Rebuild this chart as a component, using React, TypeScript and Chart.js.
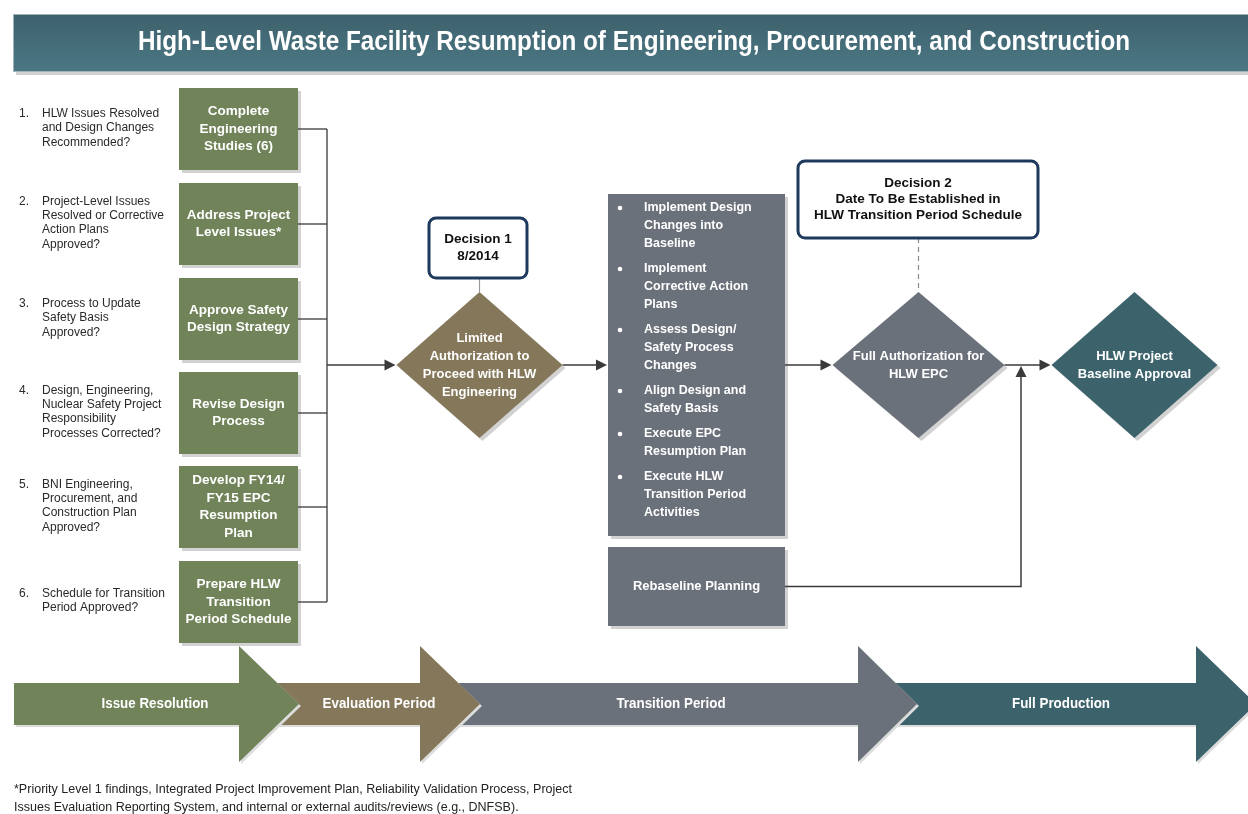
import React, { useEffect, useRef } from "react";
import { Chart, registerables } from "chart.js";

Chart.register(...registerables);

// ---------------- data ----------------
const titleText =
  "High-Level Waste Facility Resumption of Engineering, Procurement, and Construction";

const stepQuestions: string[][] = [
  ["HLW Issues Resolved", "and Design Changes", "Recommended?"],
  ["Project-Level Issues", "Resolved or Corrective", "Action Plans", "Approved?"],
  ["Process to Update", "Safety Basis", "Approved?"],
  ["Design, Engineering,", "Nuclear Safety Project", "Responsibility", "Processes Corrected?"],
  ["BNI Engineering,", "Procurement, and", "Construction Plan", "Approved?"],
  ["Schedule for Transition", "Period Approved?"],
];

const stepActions: string[][] = [
  ["Complete", "Engineering", "Studies (6)"],
  ["Address Project", "Level Issues*"],
  ["Approve Safety", "Design Strategy"],
  ["Revise Design", "Process"],
  ["Develop FY14/", "FY15 EPC", "Resumption", "Plan"],
  ["Prepare HLW", "Transition", "Period Schedule"],
];

const decision1Note = ["Decision 1", "8/2014"];
const decision1Label = ["Limited", "Authorization to", "Proceed with HLW", "Engineering"];

const transitionTasks: string[][] = [
  ["Implement Design", "Changes into", "Baseline"],
  ["Implement", "Corrective Action", "Plans"],
  ["Assess Design/", "Safety Process", "Changes"],
  ["Align Design and", "Safety Basis"],
  ["Execute EPC", "Resumption Plan"],
  ["Execute HLW", "Transition Period", "Activities"],
];
const rebaselineLabel = ["Rebaseline Planning"];

const decision2Note = ["Decision 2", "Date To Be Established in", "HLW Transition Period Schedule"];
const decision2Label = ["Full Authorization for", "HLW EPC"];
const finalLabel = ["HLW Project", "Baseline Approval"];

const phaseLabels = ["Issue Resolution", "Evaluation Period", "Transition Period", "Full Production"];

const footnoteLines = [
  "*Priority Level 1 findings, Integrated Project Improvement Plan, Reliability Validation Process, Project",
  "Issues Evaluation Reporting System, and internal or external audits/reviews (e.g., DNFSB).",
];

// ---------------- layout & style ----------------
const W = 1248;
const H = 814;
const COLORS = {
  green: "#718359",
  brown: "#85775a",
  grey: "#6b717b",
  teal: "#3c636c",
  navy: "#1d3a5c",
  line: "#3a3a3a",
  shadow: "#d2d2d2",
  text: "#2a2a2a",
};
const L = {
  title: { x0: 13, x1: 1248, y0: 14, y1: 72, cy: 43, cx: 634, w: 992 },
  stepBox: { x0: 179, x1: 298, tops: [88, 183, 278, 372, 466, 561], h: 82 },
  qNumX: 19,
  qTextX: 42,
  qLine: 14.3,
  boxLine: 17.5,
  bus: 327,
  flowY: 365,
  d1: { cx: 479.5, hw: 83, hh: 73 },
  d1Note: { x0: 429, x1: 527, y0: 218, y1: 278 },
  tasks: { x0: 608, x1: 785, y0: 194, y1: 536, y: 208, lh: 18, gap: 7, bulletX: 620, textX: 644 },
  rebase: { x0: 608, x1: 785, y0: 547, y1: 626 },
  d2: { cx: 918.5, hw: 86, hh: 73 },
  d2Note: { x0: 798, x1: 1038, y0: 161, y1: 238 },
  d3: { cx: 1134.5, hw: 83, hh: 73 },
  mergeX: 1021,
  phase: {
    bodyY0: 683,
    bodyY1: 725,
    headY0: 646,
    headY1: 762,
    midY: 704,
    refLabelW: 107,
    arrows: [
      { x0: 14, back: 239, tip: 299, cx: 155 },
      { x0: 270, back: 420, tip: 480, cx: 379 },
      { x0: 450, back: 858, tip: 917, cx: 671 },
      { x0: 890, back: 1196, tip: 1256, cx: 1061 },
    ],
  },
  foot: { x: 14, ys: [790, 808], w: 558 },
};
const phaseColors = [COLORS.green, COLORS.brown, COLORS.grey, COLORS.teal];

const SANS = '"Liberation Sans", Arial, "DejaVu Sans", sans-serif';

// ---------------- drawing plugin ----------------
const flowPlugin = {
  id: "flowchart",
  beforeDraw(chart: any) {
    const c = chart.ctx as CanvasRenderingContext2D;
    c.save();
    c.fillStyle = "#ffffff";
    c.fillRect(0, 0, chart.width, chart.height);
    c.restore();
  },
  afterDraw(chart: any) {
    const c = chart.ctx as CanvasRenderingContext2D;
    const xs = chart.scales.x;
    const ys = chart.scales.y;
    const X = (v: number) => xs.getPixelForValue(v);
    const Y = (v: number) => ys.getPixelForValue(v);

    const rect = (x0: number, y0: number, x1: number, y1: number, fill: string, shadow = true) => {
      if (shadow) {
        c.fillStyle = COLORS.shadow;
        c.fillRect(X(x0) + 3, Y(y0) + 3, X(x1) - X(x0), Y(y1) - Y(y0));
      }
      c.fillStyle = fill;
      c.fillRect(X(x0), Y(y0), X(x1) - X(x0), Y(y1) - Y(y0));
    };
    const diamondPath = (cx: number, cy: number, hw: number, hh: number, off = 0) => {
      c.beginPath();
      c.moveTo(X(cx) + off, Y(cy - hh) + off);
      c.lineTo(X(cx + hw) + off, Y(cy) + off);
      c.lineTo(X(cx) + off, Y(cy + hh) + off);
      c.lineTo(X(cx - hw) + off, Y(cy) + off);
      c.closePath();
    };
    const diamond = (cx: number, cy: number, hw: number, hh: number, fill: string) => {
      diamondPath(cx, cy, hw, hh, 3);
      c.fillStyle = COLORS.shadow;
      c.fill();
      diamondPath(cx, cy, hw, hh);
      c.fillStyle = fill;
      c.fill();
    };
    const textBlock = (
      lines: string[],
      cx: number,
      cy: number,
      lh: number,
      font: string,
      color: string,
      align: CanvasTextAlign = "center"
    ) => {
      c.font = font;
      c.fillStyle = color;
      c.textAlign = align;
      c.textBaseline = "middle";
      const start = cy - ((lines.length - 1) * lh) / 2;
      lines.forEach((t, i) => c.fillText(t, X(cx), Y(start + i * lh)));
    };
    // text drawn with a horizontal squeeze (imitates a condensed face)
    const squeezed = (
      text: string,
      x: number,
      y: number,
      font: string,
      sx: number,
      color: string,
      align: CanvasTextAlign
    ) => {
      c.save();
      c.font = font;
      c.fillStyle = color;
      c.textAlign = align;
      c.textBaseline = "middle";
      c.translate(X(x), Y(y));
      c.scale(sx, 1);
      c.fillText(text, 0, 0);
      c.restore();
    };
    const squeezeFor = (text: string, font: string, target: number) => {
      c.font = font;
      return target / c.measureText(text).width;
    };
    const line = (pts: number[][], color = COLORS.line, width = 1.5, dash: number[] = []) => {
      c.beginPath();
      c.setLineDash(dash);
      c.strokeStyle = color;
      c.lineWidth = width;
      pts.forEach((p, i) => (i ? c.lineTo(X(p[0]), Y(p[1])) : c.moveTo(X(p[0]), Y(p[1]))));
      c.stroke();
      c.setLineDash([]);
    };
    const arrowHead = (tx: number, ty: number, dir: "right" | "up") => {
      const x = X(tx);
      const y = Y(ty);
      c.beginPath();
      if (dir === "right") {
        c.moveTo(x, y);
        c.lineTo(x - 11, y - 5.5);
        c.lineTo(x - 11, y + 5.5);
      } else {
        c.moveTo(x, y);
        c.lineTo(x - 5.5, y + 11);
        c.lineTo(x + 5.5, y + 11);
      }
      c.closePath();
      c.fillStyle = COLORS.line;
      c.fill();
    };
    const roundRect = (x0: number, y0: number, x1: number, y1: number, r: number) => {
      const a = X(x0), b = Y(y0), w = X(x1) - X(x0), h = Y(y1) - Y(y0);
      c.beginPath();
      c.moveTo(a + r, b);
      c.arcTo(a + w, b, a + w, b + h, r);
      c.arcTo(a + w, b + h, a, b + h, r);
      c.arcTo(a, b + h, a, b, r);
      c.arcTo(a, b, a + w, b, r);
      c.closePath();
      c.fillStyle = "#ffffff";
      c.fill();
      c.strokeStyle = COLORS.navy;
      c.lineWidth = 3;
      c.stroke();
    };

    // ---- title banner ----
    const t = L.title;
    c.fillStyle = COLORS.shadow;
    c.fillRect(X(t.x0) + 3, Y(t.y0) + 3, X(t.x1) - X(t.x0), Y(t.y1) - Y(t.y0));
    const g = c.createLinearGradient(0, Y(t.y0), 0, Y(t.y1));
    g.addColorStop(0, "#3e616d");
    g.addColorStop(1, "#4a7884");
    c.fillStyle = g;
    c.fillRect(X(t.x0), Y(t.y0), X(t.x1) - X(t.x0), Y(t.y1) - Y(t.y0));
    c.strokeStyle = "#9fb3b8";
    c.lineWidth = 1;
    c.strokeRect(X(t.x0) + 0.5, Y(t.y0) + 0.5, X(t.x1) - X(t.x0), Y(t.y1) - Y(t.y0) - 1);
    const titleFont = `bold 27px ${SANS}`;
    squeezed(titleText, t.cx, t.cy, titleFont, squeezeFor(titleText, titleFont, t.w), "#ffffff", "center");

    // ---- left column: questions and green boxes ----
    const sb = L.stepBox;
    sb.tops.forEach((top, i) => {
      const cy = top + sb.h / 2;
      rect(sb.x0, top, sb.x1, top + sb.h, COLORS.green);
      textBlock(stepActions[i], (sb.x0 + sb.x1) / 2, cy, L.boxLine, `bold 13.5px ${SANS}`, "#ffffff");
      const q = stepQuestions[i];
      const qcy = cy - 1;
      const qStart = qcy - ((q.length - 1) * L.qLine) / 2;
      textBlock([`${i + 1}.`], L.qNumX, qStart, 0, `12px ${SANS}`, COLORS.text, "left");
      textBlock(q, L.qTextX, qcy, L.qLine, `12px ${SANS}`, COLORS.text, "left");
      line([[sb.x1, cy], [L.bus, cy]], COLORS.line, 1.3);
    });
    line(
      [[L.bus, sb.tops[0] + sb.h / 2], [L.bus, sb.tops[sb.tops.length - 1] + sb.h / 2]],
      COLORS.line,
      1.3
    );
    // bus -> decision 1
    line([[L.bus, L.flowY], [L.d1.cx - L.d1.hw - 8, L.flowY]]);
    arrowHead(L.d1.cx - L.d1.hw - 1, L.flowY, "right");

    // ---- decision 1 ----
    const n1 = L.d1Note;
    line([[L.d1.cx, n1.y1], [L.d1.cx, L.flowY - L.d1.hh]], "#9a9a9a", 1.2);
    roundRect(n1.x0, n1.y0, n1.x1, n1.y1, 7);
    textBlock(decision1Note, (n1.x0 + n1.x1) / 2, (n1.y0 + n1.y1) / 2, 17, `bold 13.5px ${SANS}`, "#111111");
    diamond(L.d1.cx, L.flowY, L.d1.hw, L.d1.hh, COLORS.brown);
    textBlock(decision1Label, L.d1.cx, L.flowY, 18, `bold 13px ${SANS}`, "#ffffff");
    line([[L.d1.cx + L.d1.hw, L.flowY], [L.tasks.x0 - 8, L.flowY]]);
    arrowHead(L.tasks.x0 - 1, L.flowY, "right");

    // ---- transition tasks ----
    const tk = L.tasks;
    rect(tk.x0, tk.y0, tk.x1, tk.y1, COLORS.grey);
    let yy = tk.y;
    transitionTasks.forEach((grp) => {
      c.beginPath();
      c.arc(X(tk.bulletX), Y(yy), 2.3, 0, Math.PI * 2);
      c.fillStyle = "#ffffff";
      c.fill();
      grp.forEach((s) => {
        textBlock([s], tk.textX, yy, 0, `bold 12.5px ${SANS}`, "#ffffff", "left");
        yy += tk.lh;
      });
      yy += tk.gap;
    });
    const rb = L.rebase;
    rect(rb.x0, rb.y0, rb.x1, rb.y1, COLORS.grey);
    const rbcy = (rb.y0 + rb.y1) / 2;
    textBlock(rebaselineLabel, (rb.x0 + rb.x1) / 2, rbcy, 0, `bold 13px ${SANS}`, "#ffffff");

    // tasks -> decision 2
    line([[tk.x1, L.flowY], [L.d2.cx - L.d2.hw - 8, L.flowY]]);
    arrowHead(L.d2.cx - L.d2.hw - 1, L.flowY, "right");

    // ---- decision 2 ----
    const n2 = L.d2Note;
    line([[L.d2.cx, n2.y1], [L.d2.cx, L.flowY - L.d2.hh]], "#8a8a8a", 1.2, [5, 4]);
    roundRect(n2.x0, n2.y0, n2.x1, n2.y1, 7);
    textBlock(decision2Note, (n2.x0 + n2.x1) / 2, (n2.y0 + n2.y1) / 2, 16, `bold 13.5px ${SANS}`, "#111111");
    diamond(L.d2.cx, L.flowY, L.d2.hw, L.d2.hh, COLORS.grey);
    textBlock(decision2Label, L.d2.cx, L.flowY, 18, `bold 13px ${SANS}`, "#ffffff");

    line([[L.d2.cx + L.d2.hw, L.flowY], [L.d3.cx - L.d3.hw - 8, L.flowY]]);
    arrowHead(L.d3.cx - L.d3.hw - 1, L.flowY, "right");
    // rebaseline -> merge
    line([[rb.x1, rbcy], [L.mergeX, rbcy], [L.mergeX, L.flowY + 9]]);
    arrowHead(L.mergeX, L.flowY + 1, "up");

    // ---- final decision ----
    diamond(L.d3.cx, L.flowY, L.d3.hw, L.d3.hh, COLORS.teal);
    textBlock(finalLabel, L.d3.cx, L.flowY, 18, `bold 13px ${SANS}`, "#ffffff");

    // ---- phase arrows ----
    const ph = L.phase;
    const arrowPath = (a: { x0: number; back: number; tip: number }, off: number) => {
      c.beginPath();
      c.moveTo(X(a.x0) + off, Y(ph.bodyY0) + off);
      c.lineTo(X(a.back) + off, Y(ph.bodyY0) + off);
      c.lineTo(X(a.back) + off, Y(ph.headY0) + off);
      c.lineTo(X(a.tip) + off, Y(ph.midY) + off);
      c.lineTo(X(a.back) + off, Y(ph.headY1) + off);
      c.lineTo(X(a.back) + off, Y(ph.bodyY1) + off);
      c.lineTo(X(a.x0) + off, Y(ph.bodyY1) + off);
      c.closePath();
    };
    for (let i = ph.arrows.length - 1; i >= 0; i--) {
      const a = ph.arrows[i];
      arrowPath(a, 2);
      c.fillStyle = "#dcdcdc";
      c.fill();
      arrowPath(a, 0);
      c.fillStyle = phaseColors[i];
      c.fill();
    }
    const phFont = `bold 14.5px ${SANS}`;
    const phScale = squeezeFor(phaseLabels[0], phFont, ph.refLabelW);
    ph.arrows.forEach((a, i) => {
      squeezed(phaseLabels[i], a.cx, ph.midY, phFont, phScale, "#ffffff", "center");
    });

    // ---- footnote ----
    const ft = L.foot;
    const fFont = `12.5px ${SANS}`;
    const fScale = squeezeFor(footnoteLines[0], fFont, ft.w);
    footnoteLines.forEach((s, i) => squeezed(s, ft.x, ft.ys[i], fFont, fScale, "#222222", "left"));
  },
};

export default function App() {
  const ref = useRef<HTMLCanvasElement | null>(null);
  useEffect(() => {
    if (!ref.current) return;
    const chart = new Chart(ref.current, {
      type: "scatter",
      data: { datasets: [] },
      options: {
        animation: false,
        responsive: false,
        maintainAspectRatio: false,
        devicePixelRatio: 1,
        events: [],
        layout: { padding: 0 },
        plugins: {
          legend: { display: false },
          tooltip: { enabled: false },
          title: { display: false },
        },
        scales: {
          x: { type: "linear", min: 0, max: W, display: false },
          y: { type: "linear", min: 0, max: H, reverse: true, display: false },
        },
      },
      plugins: [flowPlugin],
    });
    return () => chart.destroy();
  }, []);
  return (
    <div style={{ position: "absolute", left: 0, top: 0, width: W, height: H, background: "#fff" }}>
      <canvas ref={ref} width={W} height={H} style={{ display: "block", width: W, height: H }} />
    </div>
  );
}
